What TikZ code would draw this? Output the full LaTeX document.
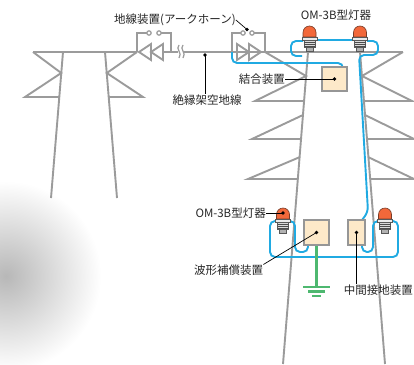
\documentclass[tikz,border=0pt]{standalone}
\usepackage{fontspec}
\setmainfont{Noto Sans CJK JP}
\begin{document}
\begin{tikzpicture}[x=1pt,y=-1pt,
  tower/.style={draw=towergrey, line width=1.9pt, line join=miter},
  cable/.style={draw=cableblue, line width=1.9pt, rounded corners=5pt},
  earth/.style={draw=earthgreen, line width=2.2pt},
  unitbox/.style={draw=boxedge, fill=boxfill, line width=1.3pt},
  lead/.style={draw=black, line width=0.7pt},
  lbl/.style={inner sep=0pt, font=\fontsize{11.5}{13}\selectfont, text=black!85},
  gapwire/.style={draw=towergrey, line width=1.2pt},
  lamp/.pic={
    % dome
    \filldraw[fill=lampred, draw=lampedge, line width=0.6pt]
      (-6.5,-14) -- (-6.5,-18.5) arc[start angle=180, end angle=360, radius=6.5] -- (6.5,-14) -- cycle;
    % flange
    \filldraw[fill=black!8, draw=black!65, line width=0.6pt] (-7.5,-14) rectangle (7.5,-11);
    % ribbed body
    \filldraw[fill=black!15, draw=black!65, line width=0.6pt] (-5.5,-11) rectangle (5.5,-3.5);
    \foreach \r in {-9,-7,-5} \draw[black!70, line width=0.9pt] (-5.5,\r) -- (5.5,\r);
    % neck
    \filldraw[fill=black!30, draw=black!65, line width=0.6pt] (-3.5,-3.5) rectangle (3.5,0);
  }
]
\definecolor{towergrey}{RGB}{155,155,155}
\definecolor{cableblue}{RGB}{32,170,226}
\definecolor{earthgreen}{RGB}{78,184,112}
\definecolor{boxfill}{RGB}{253,233,201}
\definecolor{boxedge}{RGB}{150,150,150}
\definecolor{lampred}{RGB}{242,104,58}
\definecolor{lampedge}{RGB}{120,60,40}

\useasboundingbox (0,0) rectangle (414,364);
\fill[white] (0,0) rectangle (414,364);

% soft shadow in the lower left corner
\shade[inner color=black!28, outer color=white] (6,276) circle (95);

% ---------- left tower ----------
\draw[tower] (33,52) -- (137,52);
\draw[tower] (63,52) -- (51,198);
\draw[tower] (105,52) -- (117,198);
\draw[tower] (33,52) -- (61.2,73) -- (25,97) -- (59.2,97);
\draw[tower] (137,52) -- (106.8,73) -- (143,97) -- (108.8,97);

% ---------- arc horn on the left tower ----------
\draw[tower] (137,52) -- (137,33) -- (147,33);
\draw[tower] (161,33) -- (171,33) -- (171,52);
\draw[gapwire, fill=white] (149,33) circle (2.2);
\draw[gapwire, fill=white] (159,33) circle (2.2);
\draw[tower] (139,52) -- (151,44) -- (151,60) -- cycle;
\draw[tower] (151,52) -- (163,44) -- (163,60) -- cycle;
\draw[tower] (163,52) -- (185,52);

% break mark on the ground wire
\draw[white, line width=5pt] (180.5,46) -- (180.5,58);
\draw[gapwire] (179,45) .. controls (175,49) and (183,53) .. (179,58);
\draw[gapwire] (183,45) .. controls (179,49) and (187,53) .. (183,58);

% ---------- right tower ----------
\draw[tower] (185,52) -- (403,52);
\draw[tower] (308,52) -- (283,364);
\draw[tower] (360,52) -- (385,364);
% left arms
\draw[tower] (265,52) -- (306,76) -- (255,101) -- (304,101);
\draw[tower] (303,115) -- (252,139) -- (301,139);
\draw[tower] (300,157) -- (248,179) -- (298,179);
% right arms
\draw[tower] (403,52) -- (362,76) -- (412,101) -- (364,101);
\draw[tower] (365,115) -- (414,139) -- (367,139);
\draw[tower] (368,157) -- (414,179) -- (370,179);

% ---------- arc horn on the right tower ----------
\draw[tower] (232,52) -- (232,33) -- (241,33);
\draw[tower] (254,33) -- (265,33) -- (265,52);
\draw[gapwire, fill=white] (243,33) circle (2.2);
\draw[gapwire, fill=white] (252,33) circle (2.2);
\draw[tower] (237,44) -- (249,52) -- (237,60) -- cycle;
\draw[tower] (249,44) -- (261,52) -- (249,60) -- cycle;

% ---------- cables ----------
\draw[cable] (232,52) -- (232,63) -- (343,63) -- (343,67);
\draw[cable] (303,41) -- (291,41) -- (291,56) -- (302,56);
\draw[cable] (316,40) -- (353,40);
\draw[cable] (367,41) -- (378,41) -- (378,55) -- (359,55) -- (368,212) -- (362,220);
\draw[cable] (276,221) -- (270,221) -- (270,257) -- (398,257) -- (398,221) -- (392,221);
\draw[cable] (290,221) -- (295,221) -- (295,252) -- (308,252) -- (308,245);
\draw[cable] (378,221) -- (373,221) -- (373,252) -- (362,252) -- (362,245);

% ---------- devices ----------
\node[unitbox, minimum width=25pt, minimum height=24pt, inner sep=0pt] (coup) at (334.5,79) {};
\node[unitbox, minimum width=25pt, minimum height=25pt, inner sep=0pt] (wave) at (316.5,232.5) {};
\node[unitbox, minimum width=17pt, minimum height=25pt, inner sep=0pt] (mid) at (356.5,232.5) {};

% earth
\coordinate (gnd) at (316.5,287);
\draw[earth] (wave.south) -- (gnd);
\draw[earth] ([xshift=-13.5pt]gnd) -- ([xshift=13.5pt]gnd);
\draw[earth] ([xshift=-8.5pt,yshift=-4.5pt]gnd) -- ([xshift=8.5pt,yshift=-4.5pt]gnd);
\draw[earth] ([xshift=-4.5pt,yshift=-9pt]gnd) -- ([xshift=4.5pt,yshift=-9pt]gnd);

% lamps
\pic at (309.5,51) {lamp};
\pic at (360,51) {lamp};
\pic at (283,233) {lamp};
\pic at (385,233) {lamp};

% ---------- labels ----------
\node[lbl, anchor=west] (lbArc) at (114,20) {地線装置(アークホーン)};
\node[lbl] (lbOMtop) at (336,15) {OM-3B型灯器};
\node[lbl] (lbWire) at (207,100) {絶縁架空地線};
\node[lbl, anchor=east] (lbCoup) at (285,79) {結合装置};
\node[lbl, anchor=east] (lbOMlow) at (266,213) {OM-3B型灯器};
\node[lbl, anchor=west] (lbWave) at (194,270) {波形補償装置};
\node[lbl, anchor=east] (lbMid) at (413,290) {中間接地装置};

\coordinate (pArc) at (247,29.5);
\coordinate (pWire) at (205,55);
\coordinate (pLamp) at (283,213);

\draw[lead] (lbArc.east) -- (pArc);
\draw[lead] (pWire) -- (pWire |- lbWire.north);
\draw[lead] (lbCoup.east) -- (coup.center);
\draw[lead] (lbOMlow.east) -- (pLamp);
\draw[lead] (lbWave.north east) -- (wave.center);
\draw[lead] (mid.center) -- (mid.center |- lbMid.north);

\foreach \p in {pArc,pWire,pLamp,coup.center,wave.center,mid.center}
  \fill[black] (\p) circle (1.8);
\end{tikzpicture}
\end{document}
